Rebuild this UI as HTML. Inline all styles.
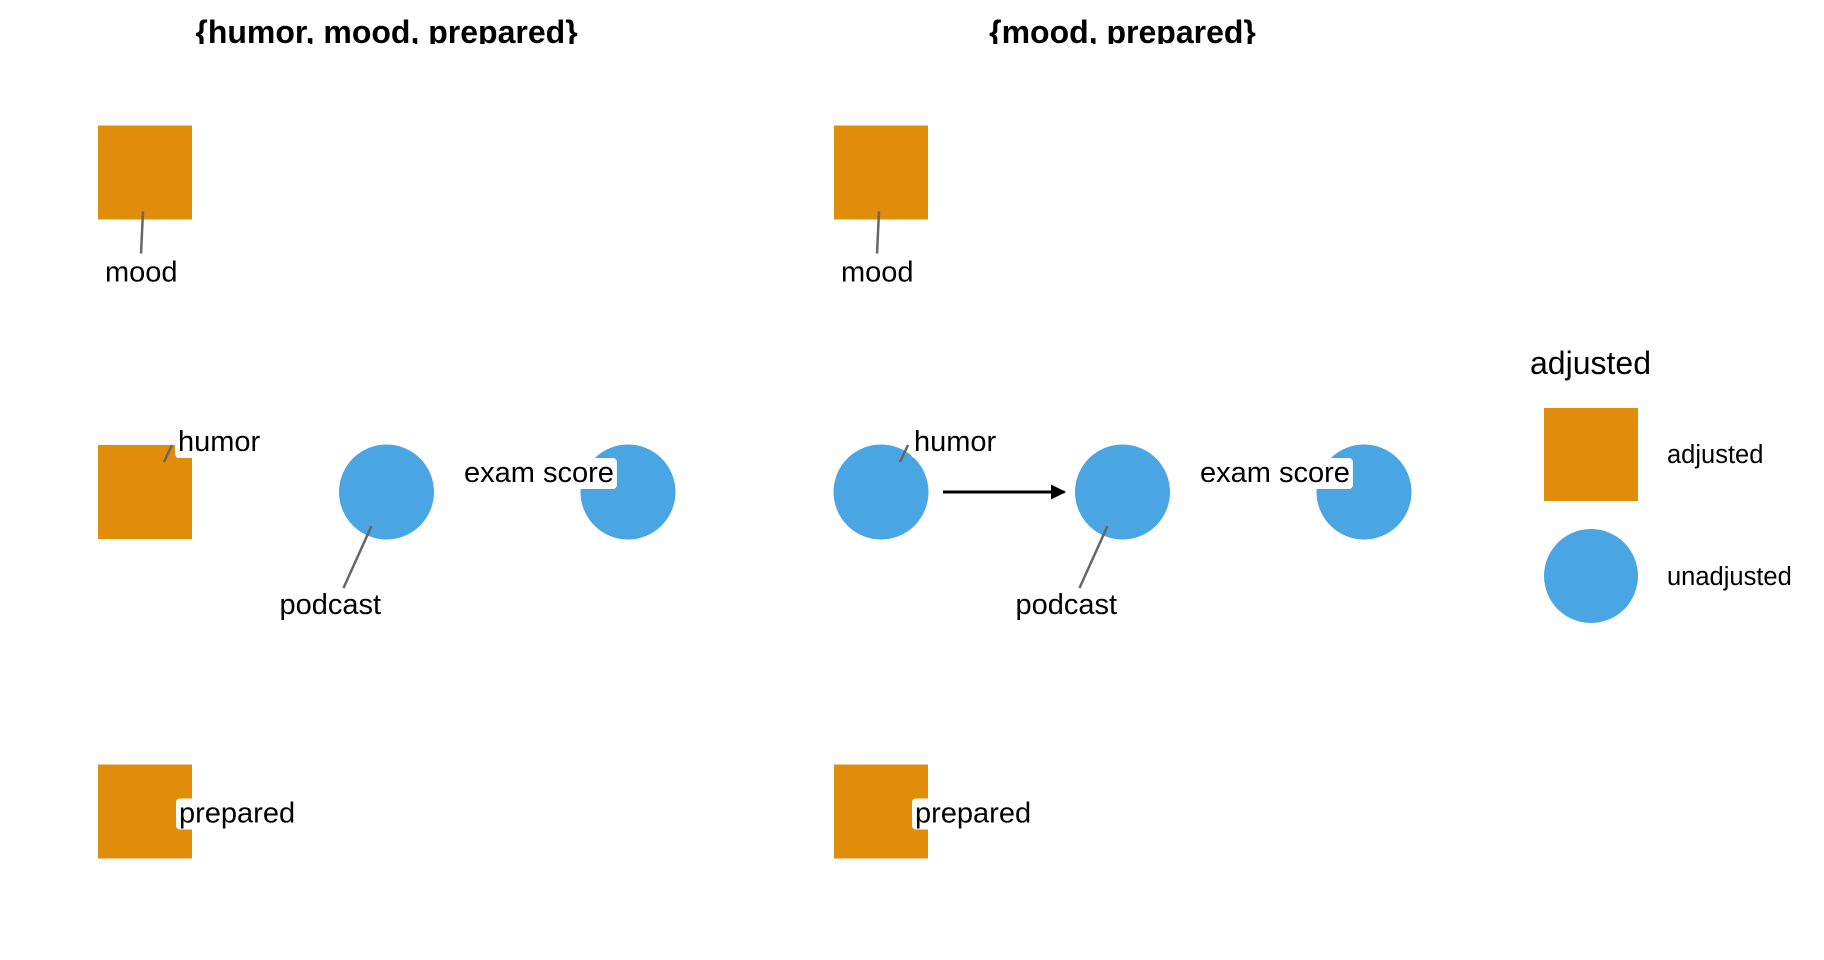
<!DOCTYPE html>
<html><head><meta charset="utf-8"><style>
body{margin:0;background:#fff;}
svg{display:block;font-family:"Liberation Sans",Arial,sans-serif;}
</style></head><body>
<svg id="chart" width="1824" height="960" viewBox="0 0 1824 960" xmlns="http://www.w3.org/2000/svg">
<defs><clipPath id="tclip"><rect x="0" y="0" width="1824" height="44"/></clipPath>
<marker id="arr" viewBox="0 0 10 10" refX="9" refY="5" markerWidth="5" markerHeight="5" orient="auto"><path d="M0,0L10,5L0,10z" fill="#000"/></marker></defs>
<g id="panels"></g>
<g id="legend">
<text x="1530" y="374" font-size="32">adjusted</text>
<rect x="1544" y="408" width="94" height="93" fill="#E08D0A"/>
<text x="1667" y="463" font-size="25.5">adjusted</text>
<circle cx="1591" cy="576" r="47" fill="#4AA5E3"/>
<text x="1667" y="585" font-size="25.5">unadjusted</text>
</g>
</svg>
<script>
const panelTitles = ["{humor, mood, prepared}", "{mood, prepared}"];
const nodeNames = ["mood", "humor", "podcast", "exam score", "prepared"];
const nodeX = [0, 0, 1, 2, 0];
const nodeY = [1, 0, 0, 0, -1];
const adjustedP1 = [true, true, false, false, true];
const adjustedP2 = [true, false, false, false, true];
const edgesP1 = [];
const edgesP2 = [[1, 2]];
const labelDX = [-40, 33, -107, -164, 34];
const labelDY = [109, -41, 122, -10, 11];
const leaderFrom = [[-2,39],[19,-30],[-15,34],null,null];
const leaderTo = [[-4,81],[27,-47],[-43,96],null,null];

const panelX0 = [145, 881];
const xStep = 241.5;
const yMid = 492, yStep = 319.5;
const sx = (p, v) => panelX0[p] + v * xStep;
const sy = v => yMid - v * yStep;
const NS = "http://www.w3.org/2000/svg";
const root = document.getElementById("panels");
function mk(tag, attrs, parent) {
  const e = document.createElementNS(NS, tag);
  for (const k in attrs) e.setAttribute(k, attrs[k]);
  parent.appendChild(e); return e;
}
[adjustedP1, adjustedP2].forEach((adj, p) => {
  const g = mk("g", {}, root);
  
  
  const t = mk("text", {x: sx(p, 1), y: 43, "font-size": 32, "font-weight": "bold", "text-anchor": "middle", "clip-path": "url(#tclip)"}, g);
  t.textContent = panelTitles[p];
  
  
  const edges = p === 0 ? edgesP1 : edgesP2;
  edges.forEach(([a, b]) => {
    const ln = mk("line", {x1: sx(p, nodeX[a]) + 62, y1: sy(nodeY[a]), x2: sx(p, nodeX[b]) - 58, y2: sy(nodeY[b]), stroke: "#000", "stroke-width": 3, "marker-end": "url(#arr)"}, g);
    
    
  });
  nodeNames.forEach((n, i) => {
    const cx = sx(p, nodeX[i]), cy = sy(nodeY[i]);
    let m;
    if (adj[i]) m = mk("rect", {x: cx - 47, y: cy - 47, width: 94, height: 94, fill: "#E08D0A"}, g);
    else m = mk("circle", {cx: cx, cy: cy, r: 47.5, fill: "#4AA5E3"}, g);
    
    
  });
  nodeNames.forEach((n, i) => {
    const cx = sx(p, nodeX[i]), cy = sy(nodeY[i]);
    if (leaderFrom[i]) {
      const l = mk("line", {x1: cx + leaderFrom[i][0], y1: cy + leaderFrom[i][1], x2: cx + leaderTo[i][0], y2: cy + leaderTo[i][1], stroke: "#666", "stroke-width": 2.5}, g);
      
      
    }
    const tx = cx + labelDX[i], ty = cy + labelDY[i];
    const bg = mk("rect", {x: tx - 3, y: ty - 24, width: 10, height: 31, rx: 4, fill: "#fff"}, g);
    const tt = mk("text", {x: tx, y: ty, "font-size": 29}, g);
    tt.textContent = n;
    
    
    const w = tt.getComputedTextLength();
    bg.setAttribute("width", w + 6);
    
    
  });
});
</script>
</body></html>
